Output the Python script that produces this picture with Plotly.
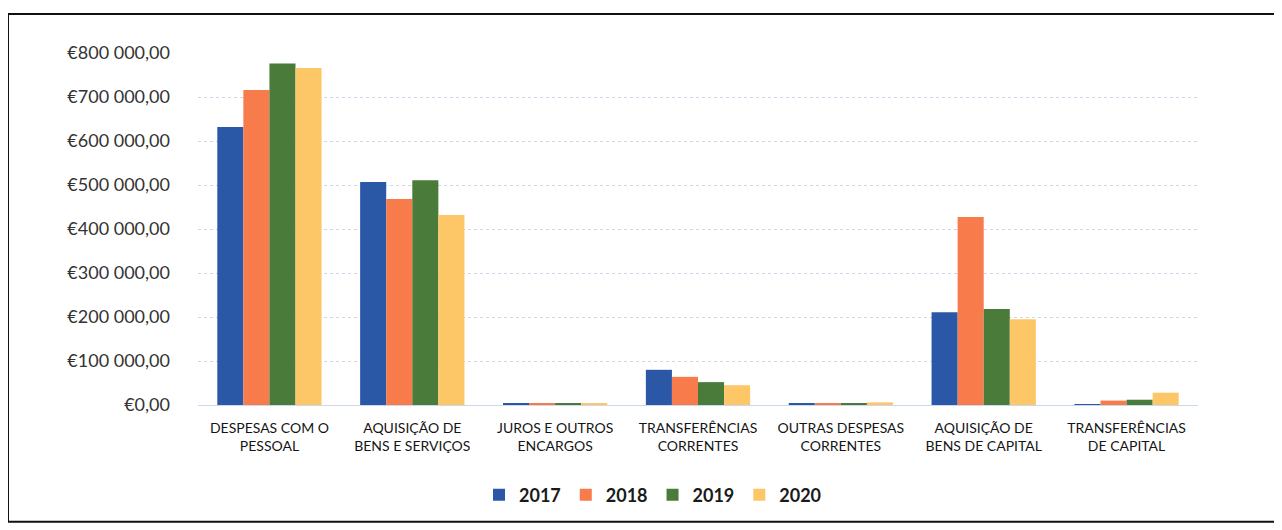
import plotly.graph_objects as go

categories = [
    "DESPESAS COM O PESSOAL",
    "AQUISIÇÃO DE BENS E SERVIÇOS",
    "JUROS E OUTROS ENCARGOS",
    "TRANSFERÊNCIAS CORRENTES",
    "OUTRAS DESPESAS CORRENTES",
    "AQUISIÇÃO DE BENS DE CAPITAL",
    "TRANSFERÊNCIAS DE CAPITAL",
]
category_labels = [
    "DESPESAS COM O<br>PESSOAL",
    "AQUISIÇÃO DE<br>BENS E SERVIÇOS",
    "JUROS E OUTROS<br>ENCARGOS",
    "TRANSFERÊNCIAS<br>CORRENTES",
    "OUTRAS DESPESAS<br>CORRENTES",
    "AQUISIÇÃO DE<br>BENS DE CAPITAL",
    "TRANSFERÊNCIAS<br>DE CAPITAL",
]
years = ["2017", "2018", "2019", "2020"]
values_2017 = [632000, 507000, 3000, 80000, 3000, 211000, 2000]
values_2018 = [716000, 468000, 3000, 64000, 3000, 427000, 10000]
values_2019 = [776000, 511000, 3000, 52000, 3000, 218000, 12000]
values_2020 = [766000, 432000, 3000, 45000, 6000, 195000, 28000]
series_values = [values_2017, values_2018, values_2019, values_2020]
colors = ["#2A58A6", "#F77B4B", "#4B7B3B", "#FDC767"]

y_ticks = [0, 100000, 200000, 300000, 400000, 500000, 600000, 700000, 800000]
y_tick_labels = ["€0,00", "€100 000,00", "€200 000,00", "€300 000,00", "€400 000,00",
                 "€500 000,00", "€600 000,00", "€700 000,00", "€800 000,00"]

fig = go.Figure()
for name, vals, col in zip(years, series_values, colors):
    fig.add_trace(go.Bar(name=name, x=categories, y=vals,
                         marker=dict(color=col, line=dict(width=0))))

fig.update_layout(
    width=1274, height=522,
    margin=dict(l=190, r=84, t=45, b=125),
    paper_bgcolor="white", plot_bgcolor="white",
    barmode="group", bargap=0.27, bargroupgap=0,
    font=dict(family="Lato, Open Sans, sans-serif", color="#262626"),
    showlegend=True,
    legend=dict(orientation="h", x=0.455, xanchor="center", y=-0.256, yanchor="middle",
                font=dict(size=18, family="Lato, sans-serif", color="#1a1a1a", weight="bold"),
                itemwidth=30, traceorder="normal"),
    shapes=[dict(type="rect", xref="paper", yref="paper",
                 x0=-0.19, x1=1.083, y0=-0.332, y1=1.111,
                 line=dict(color="#111111", width=2), layer="below")],
)
fig.update_xaxes(tickmode="array", tickvals=categories, ticktext=category_labels,
                 tickfont=dict(size=14, color="#151515"), showgrid=False, showline=False,
                 ticks="outside", ticklen=0, tickcolor="white", ticklabelstandoff=10)
fig.update_yaxes(range=[0, 800000], tickmode="array", tickvals=y_ticks, ticktext=y_tick_labels,
                 tickfont=dict(size=18, color="#333333"), showgrid=True,
                 gridcolor="#C9D8EC", gridwidth=1, griddash="dot",
                 zeroline=True, zerolinecolor="#C9D8EC", zerolinewidth=1,
                 showline=False, ticks="", ticklabelstandoff=27)

fig.write_html("out.html")
